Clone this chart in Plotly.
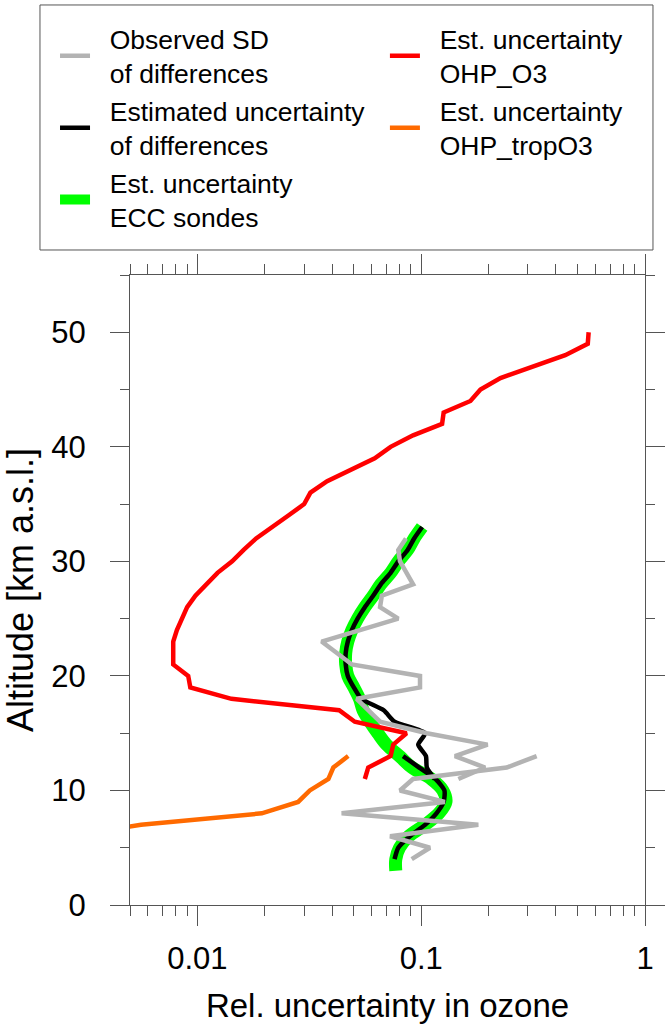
import plotly.graph_objects as go

# altitude [km] / relative uncertainty
alt_ohp = [50, 49, 48, 47, 46, 45, 44, 43, 42, 41, 40, 39, 38, 37, 36, 35, 34, 33, 32, 31,
           30, 29, 28, 27, 26, 25, 24, 23, 22, 21, 20, 19, 18, 17, 16, 15, 14, 13, 12, 11]
unc_ohp = [0.56, 0.555, 0.44, 0.315, 0.226, 0.184, 0.166, 0.126, 0.124, 0.092,
           0.073, 0.062, 0.048, 0.038, 0.032, 0.030, 0.0255, 0.0215, 0.0183, 0.0161,
           0.0143, 0.0123, 0.0109, 0.0098, 0.0090, 0.0085, 0.0081, 0.0078, 0.0078, 0.0078,
           0.0091, 0.0093, 0.0142, 0.043, 0.0505, 0.086, 0.075, 0.073, 0.058, 0.056]

alt_trop = [6, 7, 8, 9, 10, 11, 12, 13]
unc_trop = [0.0025, 0.0056, 0.0194, 0.0282, 0.0318, 0.0385, 0.0405, 0.0472]

alt_ecc = [33, 32, 31, 30, 29, 28, 27, 26, 25, 24, 23, 22, 21, 20, 19, 18,
           17, 16, 15, 14, 13, 12, 11, 10, 9, 8, 7, 6, 5, 4, 3]
unc_ecc = [0.101, 0.093, 0.087, 0.079, 0.073, 0.066, 0.061, 0.056, 0.052, 0.049, 0.047,
           0.046, 0.046, 0.047, 0.050, 0.053, 0.055, 0.059, 0.064, 0.070, 0.080, 0.091,
           0.111, 0.125, 0.129, 0.120, 0.104, 0.088, 0.080, 0.077, 0.077]

# estimated uncertainty of differences (O3 part and tropO3 part)
alt_est_o3 = [33, 32, 31, 30, 29, 28, 27, 26, 25, 24, 23, 22, 21, 20, 19, 18,
              17, 16, 15, 14, 13, 12, 11]
unc_est_o3 = [0.101, 0.093, 0.087, 0.079, 0.073, 0.066, 0.061, 0.056, 0.052, 0.049, 0.047,
              0.046, 0.046, 0.047, 0.050, 0.054, 0.068, 0.076, 0.104, 0.097, 0.105, 0.106,
              0.115]
alt_est_trop = [13, 12, 11, 10, 9, 8, 7, 6, 5, 4]
unc_est_trop = [0.083, 0.098, 0.116, 0.127, 0.126, 0.117, 0.104, 0.089, 0.079, 0.076]

# observed SD of differences
alt_sd_o3 = [32, 31, 30, 29, 28, 27, 26, 25, 24, 23, 22, 21, 20, 19, 18, 17, 16, 15, 14, 13, 12, 11]
sd_o3 = [0.0855, 0.079, 0.0804, 0.086, 0.092, 0.0667, 0.0655, 0.079, 0.054, 0.0359, 0.042,
         0.049, 0.0988, 0.0988, 0.0515, 0.058, 0.0655, 0.106, 0.198, 0.1415, 0.193, 0.1466]
alt_sd_trop = [13, 12, 11, 10, 9, 8, 7, 6, 5, 4]
sd_trop = [0.328, 0.241, 0.092, 0.0804, 0.1276, 0.0441, 0.18, 0.0726, 0.1094, 0.0907]

x_major = [0.01, 0.1, 1]
x_major_text = ["0.01", "0.1", "1"]
x_minor = [0.005, 0.006, 0.007, 0.008, 0.009,
           0.02, 0.03, 0.04, 0.05, 0.06, 0.07, 0.08, 0.09,
           0.2, 0.3, 0.4, 0.5, 0.6, 0.7, 0.8, 0.9]
y_major = [0, 10, 20, 30, 40, 50]

FONT = "Liberation Sans, Arial, sans-serif"
AXC = "#555555"
LW = 4.5
PAD = "\u00a0\u00a0"  # extra gap between legend line and its text


def label(*lines):
    return "<br>".join(PAD + s for s in lines)


fig = go.Figure()

fig.add_trace(go.Scatter(x=unc_ecc, y=alt_ecc, mode="lines",
                         name=label("Est. uncertainty", "ECC sondes"),
                         line=dict(color="#00ff00", width=13, shape="spline"),
                         legend="legend", legendrank=3))
fig.add_trace(go.Scatter(x=unc_est_o3, y=alt_est_o3, mode="lines",
                         name=label("Estimated uncertainty", "of differences"),
                         line=dict(color="black", width=LW, shape="spline", smoothing=0.6),
                         legend="legend", legendrank=2))
fig.add_trace(go.Scatter(x=unc_est_trop, y=alt_est_trop, mode="lines", showlegend=False,
                         line=dict(color="black", width=LW, shape="spline", smoothing=0.6)))
fig.add_trace(go.Scatter(x=unc_ohp, y=alt_ohp, mode="lines",
                         name=label("Est. uncertainty", "OHP_O3"),
                         line=dict(color="#ff0000", width=LW), legend="legend2", legendrank=1))
fig.add_trace(go.Scatter(x=unc_trop, y=alt_trop, mode="lines",
                         name=label("Est. uncertainty", "OHP_tropO3"),
                         line=dict(color="#ff6a00", width=LW), legend="legend2", legendrank=2))
fig.add_trace(go.Scatter(x=sd_o3, y=alt_sd_o3, mode="lines",
                         name=label("Observed SD", "of differences"),
                         line=dict(color="#b3b3b3", width=LW), legend="legend", legendrank=1))
fig.add_trace(go.Scatter(x=sd_trop, y=alt_sd_trop, mode="lines", showlegend=False,
                         line=dict(color="#b3b3b3", width=LW)))

leg = dict(orientation="v", yanchor="top", xanchor="left", y=1.413,
           bgcolor="rgba(0,0,0,0)", borderwidth=0,
           font=dict(family=FONT, size=26.5, color="black"), traceorder="normal")

fig.update_layout(
    width=669, height=1029,
    margin=dict(l=130, r=24, t=275, b=124, autoexpand=False),
    paper_bgcolor="white", plot_bgcolor="white",
    font=dict(family=FONT, color="black"),
    legend=dict(leg, x=-0.1456),
    legend2=dict(leg, x=0.495),
    shapes=[dict(type="rect", xref="paper", yref="paper",
                 x0=-0.1748, x1=1.0155, y0=1.0397, y1=1.4286,
                 line=dict(color=AXC, width=1))],
)

fig.update_xaxes(
    type="log", range=[-2.30103, 0],
    tickmode="array", tickvals=x_major, ticktext=x_major_text,
    ticks="outside", ticklen=20, tickwidth=1, tickcolor=AXC,
    minor=dict(tickmode="array", tickvals=x_minor, ticks="outside", ticklen=10,
               tickwidth=1, tickcolor=AXC),
    showline=True, linecolor=AXC, linewidth=1, mirror="allticks",
    showgrid=False, zeroline=False, ticklabelstandoff=6,
    tickfont=dict(family=FONT, size=31, color="black"),
    title=dict(text="Rel. uncertainty in ozone", font=dict(family=FONT, size=33, color="black"),
               standoff=18),
)
fig.update_yaxes(
    range=[0, 55], tickmode="array", tickvals=y_major,
    ticks="outside", ticklen=19, tickwidth=1, tickcolor=AXC,
    minor=dict(dtick=5, ticks="outside", ticklen=9, tickwidth=1, tickcolor=AXC),
    showline=True, linecolor=AXC, linewidth=1, mirror="allticks",
    showgrid=False, zeroline=False, ticklabelstandoff=18,
    tickfont=dict(family=FONT, size=31, color="black"),
    title=dict(text="Altitude [km a.s.l.]", font=dict(family=FONT, size=36, color="black"),
               standoff=30),
)

# drop the default 8px page margin so the figure sits at the window origin
fig.write_html("out.html", config={"displayModeBar": False},
               post_script="document.body.style.margin='0px';")
